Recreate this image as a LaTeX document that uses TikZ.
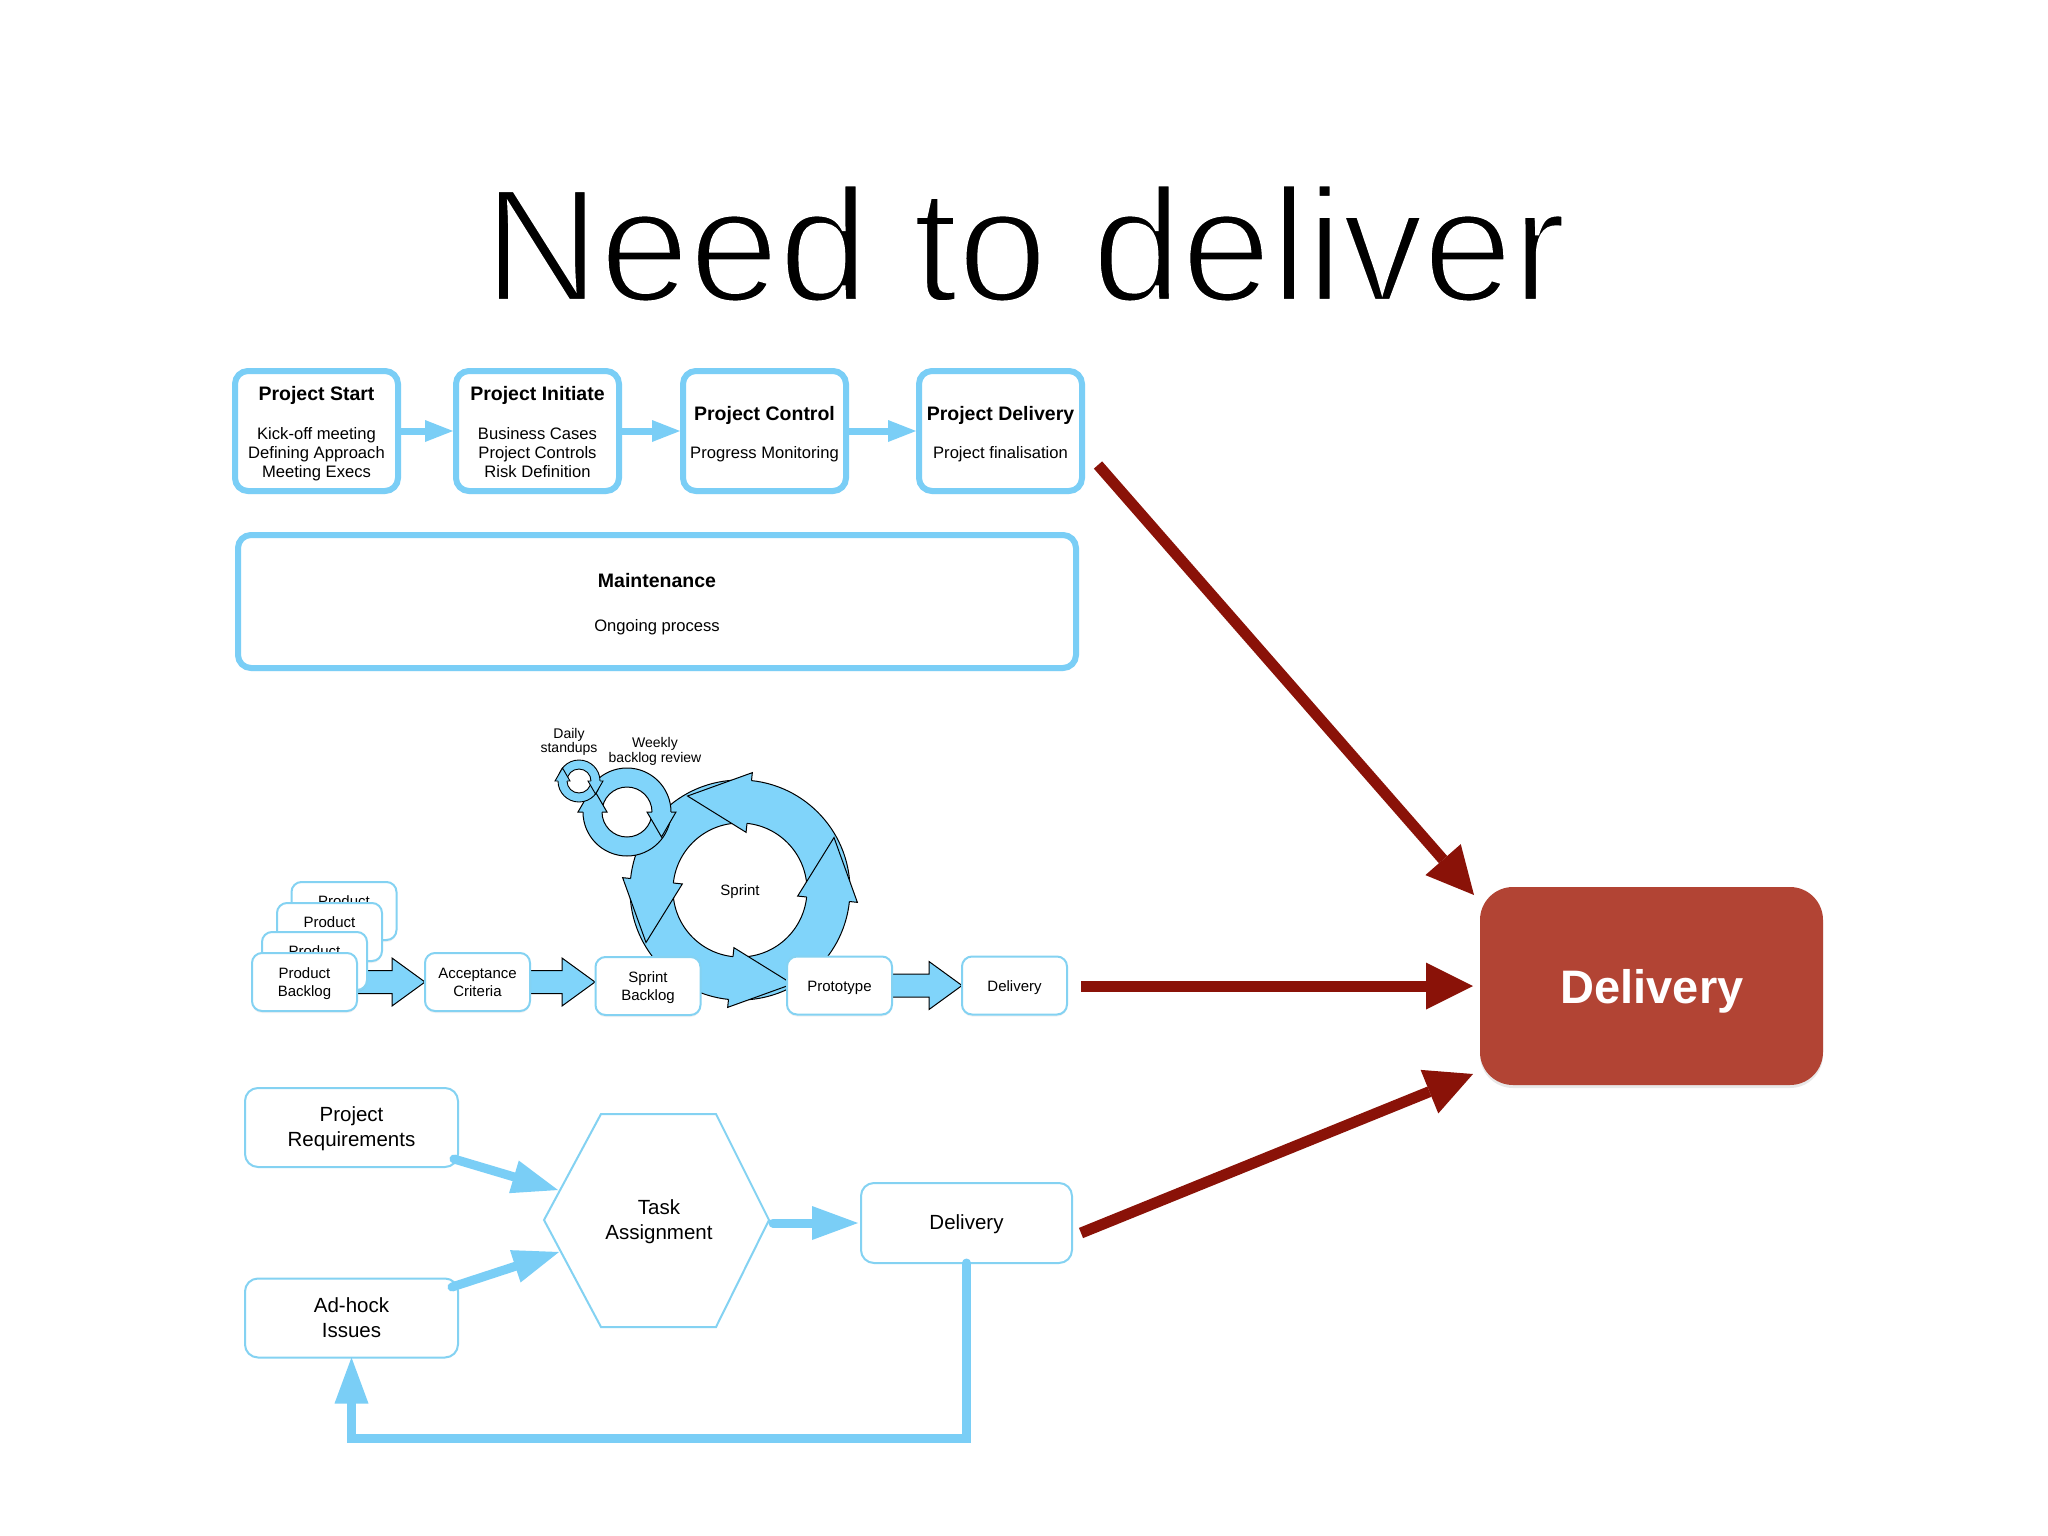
\documentclass[tikz,border=0pt]{standalone}
\usepackage{fontspec}
\setmainfont{Liberation Sans}
\usetikzlibrary{arrows.meta,calc,shadows}
\definecolor{lb}{RGB}{122,206,246}
\definecolor{lbthin}{RGB}{132,210,242}
\definecolor{afill}{RGB}{128,212,250}
\definecolor{dred}{RGB}{138,18,8}
\definecolor{brick}{RGB}{178,68,52}
\begin{document}
\begin{tikzpicture}[x=1pt,y=-1pt,
  every node/.style={inner sep=0pt,outer sep=0pt},
  topbox/.style={draw=lb,line width=6pt,rounded corners=13pt,fill=white,minimum width=163pt,minimum height=120pt,drop shadow={opacity=0.12,shadow xshift=0pt,shadow yshift=-3pt}},
  sbox/.style={draw=lbthin,line width=2pt,rounded corners=10pt,fill=white,minimum width=105pt,minimum height=58pt,drop shadow={opacity=0.10,shadow xshift=0pt,shadow yshift=-2pt}},
  bbox/.style={draw=lbthin,line width=2pt,rounded corners=13pt,fill=white,minimum width=213pt,minimum height=79pt},
  txthd/.style={anchor=base,font=\fontsize{19.5}{20}\selectfont\bfseries},
  txtbd/.style={anchor=base,font=\fontsize{16.6}{17}\selectfont},
  txtsm/.style={anchor=base,font=\fontsize{15}{15}\selectfont},
  txtxs/.style={anchor=base,font=\fontsize{14}{14}\selectfont},
  txtmd/.style={anchor=base,font=\fontsize{20.5}{21}\selectfont},
  smallarr/.style={draw=lb,line width=7pt,-{Triangle[length=28pt,width=22pt,line width=0pt]}},
  redarr/.style={draw=dred,line width=11pt,-{Triangle[length=47pt,width=47pt,line width=0pt]}},
  barr/.style={draw=lb,line width=9pt,line cap=round,-{Triangle[length=46pt,width=34pt,line width=0pt]}},
  blockarr/.style={draw=black,line width=1pt,fill=afill,line join=miter},
  ringstyle/.style={fill=afill,draw=black,line width=1pt,line join=miter}
]
\fill[white] (0,0) rectangle (2048,1536);
\useasboundingbox (0,0) rectangle (2048,1536);

% Title (thinned with a white outline stroke)
\node[anchor=base,font=\fontsize{161}{161}\selectfont] (title) at (1025,301) {\special{pdf:code 2 Tr 1 1 1 RG 4 w}Need to deliver\special{pdf:code 0 Tr 0 0 0 RG}};

% Top process boxes
\node[topbox] (ps) at (316.5,431) {};
\node[topbox] (pi) at (537.5,431) {};
\node[topbox] (pc) at (764.5,431) {};
\node[topbox] (pd) at (1000.5,431) {};
\draw[smallarr] ($(ps.east)+(3,0)$) -- ($(pi.west)+(-3,0)$);
\draw[smallarr] ($(pi.east)+(3,0)$) -- ($(pc.west)+(-3,0)$);
\draw[smallarr] ($(pc.east)+(3,0)$) -- ($(pd.west)+(-3,0)$);

\node[txthd] (t1a) at (316.5,400) {Project Start};
\node[txtbd] (t1b) at (316.5,439.5) {Kick-off meeting};
\node[txtbd] (t1c) at (316.5,458.5) {Defining Approach};
\node[txtbd] (t1d) at (316.5,477.5) {Meeting Execs};
\node[txthd] (t2a) at (537.5,400) {Project Initiate};
\node[txtbd] (t2b) at (537.5,439.5) {Business Cases};
\node[txtbd] (t2c) at (537.5,458.5) {Project Controls};
\node[txtbd] (t2d) at (537.5,477.5) {Risk Definition};
\node[txthd] (t3a) at (764.5,420) {Project Control};
\node[txtbd] (t3b) at (764.5,458.5) {Progress Monitoring};
\node[txthd] (t4a) at (1000.5,420) {Project Delivery};
\node[txtbd] (t4b) at (1000.5,458.5) {Project finalisation};

% Maintenance
\node[topbox,minimum width=838pt,minimum height=133pt] (mt) at (657,601.5) {};
\node[txthd] (tma) at (657,587) {Maintenance};
\node[txtbd] (tmb) at (657,631) {Ongoing process};

% Sprint ring
\begin{scope}[shift={(740,890)}]
  \filldraw[ringstyle,even odd rule] (0,0) circle[radius=110pt] (0,0) circle[radius=67pt];
  \foreach \a in {-6,84,174,264}{
    \filldraw[ringstyle] (\a:110pt) -- (\a:118pt) -- ($(\a:88pt)+(\a+90:62pt)$) -- (\a:58pt) -- (\a:67pt);
  }
\end{scope}
% Weekly ring
\begin{scope}[shift={(627,812)}]
  \filldraw[ringstyle,even odd rule] (0,0) circle[radius=44pt] (0,0) circle[radius=25pt];
  \foreach \a in {0,180}{
    \filldraw[ringstyle] (\a:44pt) -- (\a:49pt) -- ($(\a:34.5pt)+(\a-90:25pt)$) -- (\a:20pt) -- (\a:25pt);
  }
\end{scope}
% Daily ring
\begin{scope}[shift={(579,781)}]
  \filldraw[ringstyle,line width=0.9pt,even odd rule] (0,0) circle[radius=21pt] (0,0) circle[radius=12pt];
  \foreach \a in {0,180}{
    \filldraw[ringstyle,line width=0.9pt] (\a:21pt) -- (\a:24pt) -- ($(\a:16.5pt)+(\a-90:13pt)$) -- (\a:9pt) -- (\a:12pt);
  }
\end{scope}
\node[txtsm] (tsprint) at (740,895) {Sprint};
\node[txtxs] (tda) at (569,738) {Daily};
\node[txtxs] (tdb) at (569,752) {standups};
\node[txtxs] (twa) at (655,747) {Weekly};
\node[txtxs] (twb) at (655,762) {backlog review};

% Block arrows of sprint row
\coordinate (pbE) at (357,982);
\coordinate (acE) at (530,982);
\coordinate (ptE) at (892,985.5);
\draw[blockarr] ($(pbE)+(0,-11.5)$) -- ++(35,0) -- ++(0,-12.5) -- ++(33,24) -- ++(-33,24) -- ++(0,-12.5) -- ++(-35,0) -- cycle;
\draw[blockarr] ($(acE)+(0,-11.5)$) -- ++(32,0) -- ++(0,-12.5) -- ++(33,24) -- ++(-33,24) -- ++(0,-12.5) -- ++(-32,0) -- cycle;
\draw[blockarr] ($(ptE)+(0,-11.5)$) -- ++(37,0) -- ++(0,-12.5) -- ++(33,24) -- ++(-33,24) -- ++(0,-12.5) -- ++(-37,0) -- cycle;

% Product stack
\node[sbox] (pb4) at (344,911) {};
\node[txtsm] (tp4) at (344,906) {Product};
\node[sbox] (pb3) at (329.5,932) {};
\node[txtsm] (tp3) at (329.5,927) {Product};
\node[sbox] (pb2) at (314.5,961) {};
\node[txtsm] (tp2) at (314.5,956) {Product};
\node[sbox] (pb) at (304.5,982) {};
\node[txtsm] (tpba) at (304.5,978) {Product};
\node[txtsm] (tpbb) at (304.5,996) {Backlog};

\node[sbox] (ac) at (477.5,982) {};
\node[txtsm] (taca) at (477.5,978) {Acceptance};
\node[txtsm] (tacb) at (477.5,996) {Criteria};
\node[sbox] (sb) at (648,986) {};
\node[txtsm] (tsba) at (648,982) {Sprint};
\node[txtsm] (tsbb) at (648,1000) {Backlog};
\node[sbox] (pt) at (839.5,985.5) {};
\node[txtsm] (tpt) at (839.5,991) {Prototype};
\node[sbox] (dl) at (1014.5,985.5) {};
\node[txtsm] (tdl) at (1014.5,991) {Delivery};

% Bottom section
\node[bbox] (pr) at (351.5,1127.5) {};
\node[txtmd] (tpra) at (351.5,1121.5) {Project};
\node[txtmd] (tprb) at (351.5,1146.5) {Requirements};
\node[bbox] (ai) at (351.5,1318) {};
\node[txtmd] (taia) at (351.5,1312.5) {Ad-hock};
\node[txtmd] (taib) at (351.5,1337.5) {Issues};
\draw[draw=lbthin,line width=2pt,line join=miter] (601,1114) -- (716,1114) -- (769,1220) -- (716,1327) -- (601,1327) -- (544,1220) -- cycle;
\node[txtmd] (tta) at (659,1214.5) {Task};
\node[txtmd] (ttb) at (659,1239.5) {Assignment};
\node[bbox,minimum width=211pt,minimum height=80pt] (bdl) at (966.5,1223) {};
\node[txtmd] (tbdl) at (966.5,1229.5) {Delivery};

\coordinate (prs) at (454,1159);
\coordinate (hexa) at (558,1190);
\coordinate (ais) at (452,1287);
\coordinate (hexb) at (559,1252);
\coordinate (hexr) at (773,1223);
\draw[barr] (prs) -- (hexa);
\draw[barr] (ais) -- (hexb);
\draw[barr] (hexr) -- ($(bdl.west)+(-3,0)$);
\draw[barr,line join=miter] (bdl.south) -- ++(0,175) -| (ai.south);

% Big delivery box
\node[fill=brick,rounded corners=33pt,minimum width=343pt,minimum height=198pt,drop shadow={opacity=0.18,shadow xshift=0pt,shadow yshift=-3pt}] (bigd) at (1651.5,986) {};
\node[anchor=base,font=\fontsize{47}{47}\selectfont\bfseries,text=white] (tbig) at (1652,1003) {Delivery};

% Red arrows
\coordinate (r1s) at (1098,465);
\coordinate (r2s) at (1081,986);
\coordinate (r3s) at (1081,1233);
\draw[redarr] (r1s) -- ($(bigd.north west)+(-6,8)$);
\draw[redarr] (r2s) -- ($(bigd.west)+(-7,0)$);
\draw[redarr] (r3s) -- ($(bigd.south west)+(-7,-11)$);
\end{tikzpicture}
\end{document}
